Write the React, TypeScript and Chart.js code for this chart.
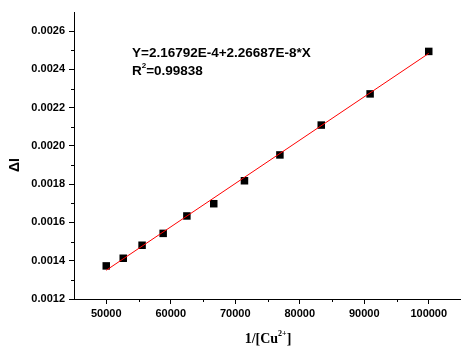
import React, { useEffect, useRef } from "react";
import { Chart, registerables } from "chart.js";

Chart.register(...registerables);

const xValues = [50000, 52632, 55556, 58824, 62500, 66667, 71429, 76923, 83333, 90909, 100000];
const yValues = [0.001373, 0.001413, 0.001481, 0.001543, 0.001634, 0.001698, 0.001818, 0.001953, 0.002109, 0.002272, 0.002494];
const fitIntercept = 2.16792e-4;
const fitSlope = 2.26687e-8;
const xTicks = [50000, 60000, 70000, 80000, 90000, 100000];
const xMinorTicks = [55000, 65000, 75000, 85000, 95000];
const yTicks = [0.0012, 0.0014, 0.0016, 0.0018, 0.002, 0.0022, 0.0024, 0.0026];
const yMinorTicks = [0.0013, 0.0015, 0.0017, 0.0019, 0.0021, 0.0023, 0.0025];
const equationText = "Y=2.16792E-4+2.26687E-8*X";
const r2Text = "0.99838";

const SANS = "'Liberation Sans', Arial, sans-serif";
const SERIF = "'Liberation Serif', 'Times New Roman', serif";

const overlayPlugin = {
  id: "overlay",
  afterDraw(chart: any) {
    const ctx = chart.ctx;
    const xs = chart.scales.x;
    const ys = chart.scales.y;
    const area = chart.chartArea;
    ctx.save();
    ctx.strokeStyle = "#000";
    ctx.lineWidth = 1;
    ctx.beginPath();
    xMinorTicks.forEach((v) => {
      const px = Math.round(xs.getPixelForValue(v)) + 0.5;
      ctx.moveTo(px, area.bottom);
      ctx.lineTo(px, area.bottom + 3);
    });
    yMinorTicks.forEach((v) => {
      const py = Math.round(ys.getPixelForValue(v)) + 0.5;
      ctx.moveTo(area.left, py);
      ctx.lineTo(area.left - 3, py);
    });
    ctx.stroke();

    ctx.fillStyle = "#000";
    ctx.textBaseline = "alphabetic";
    ctx.textAlign = "left";
    ctx.font = `bold 13.5px ${SANS}`;
    const ax = 132;
    ctx.fillText(equationText, ax, 57);
    ctx.fillText("R", ax, 75);
    const rw = ctx.measureText("R").width;
    ctx.font = `bold 8px ${SANS}`;
    ctx.fillText("2", ax + rw, 68);
    const sw = ctx.measureText("2").width;
    ctx.font = `bold 13.5px ${SANS}`;
    ctx.fillText("=" + r2Text, ax + rw + sw, 75);

    const parts = [
      { t: "1/[Cu", f: `bold 14px ${SERIF}`, dy: 0 },
      { t: "2+", f: `bold 8px ${SERIF}`, dy: -7 },
      { t: "]", f: `bold 14px ${SERIF}`, dy: 0 },
    ];
    let total = 0;
    parts.forEach((p) => {
      ctx.font = p.f;
      total += ctx.measureText(p.t).width;
    });
    let cx = 268 - total / 2;
    const baseY = 343;
    parts.forEach((p) => {
      ctx.font = p.f;
      ctx.fillText(p.t, cx, baseY + p.dy);
      cx += ctx.measureText(p.t).width;
    });

    ctx.save();
    ctx.translate(19, 165);
    ctx.rotate(-Math.PI / 2);
    ctx.textAlign = "center";
    ctx.font = `bold 14px ${SANS}`;
    ctx.fillText("\u0394I", 0, 0);
    ctx.restore();
    ctx.restore();
  },
};

export default function App() {
  const ref = useRef<HTMLCanvasElement>(null);
  useEffect(() => {
    if (!ref.current) return;
    const points = xValues.map((x, i) => ({ x, y: yValues[i] }));
    const xMin = Math.min(...xValues);
    const xMax = Math.max(...xValues);
    const fit = [
      { x: xMin, y: fitIntercept + fitSlope * xMin },
      { x: xMax, y: fitIntercept + fitSlope * xMax },
    ];
    const chart = new Chart(ref.current, {
      type: "scatter",
      data: {
        datasets: [
          {
            data: fit,
            showLine: true,
            borderColor: "#ff0000",
            borderWidth: 1,
            pointRadius: 0,
            fill: false,
          },
          {
            data: points,
            pointStyle: "rect",
            pointRadius: 5.3,
            pointBorderWidth: 0,
            backgroundColor: "#000",
            borderColor: "#000",
          },
        ],
      },
      options: {
        animation: false,
        responsive: false,
        maintainAspectRatio: false,
        layout: { autoPadding: false, padding: { top: 12, right: 0, left: 0, bottom: 0 } },
        plugins: { legend: { display: false }, tooltip: { enabled: false } },
        scales: {
          x: {
            type: "linear",
            min: 45000,
            max: 105000,
            afterBuildTicks: (s: any) => {
              s.ticks = xTicks.map((v) => ({ value: v }));
            },
            afterFit: (s: any) => {
              s.height = 49;
              s.paddingLeft = 0;
              s.paddingRight = 0;
            },
            grid: { drawOnChartArea: false, tickLength: 5, color: "#000", tickColor: "#000" },
            border: { display: true, color: "#000", width: 1 },
            ticks: {
              color: "#000",
              padding: 3,
              maxRotation: 0,
              autoSkip: false,
              font: { family: SANS, size: 11, weight: "bold" },
              callback: (v: any) => String(v),
            },
          },
          y: {
            type: "linear",
            min: 0.0012,
            max: 0.0027,
            afterBuildTicks: (s: any) => {
              s.ticks = yTicks.map((v) => ({ value: v }));
            },
            afterFit: (s: any) => {
              s.width = 74;
              s.paddingTop = 0;
              s.paddingBottom = 0;
            },
            grid: { drawOnChartArea: false, tickLength: 5, color: "#000", tickColor: "#000" },
            border: { display: true, color: "#000", width: 1 },
            ticks: {
              color: "#000",
              padding: 4,
              autoSkip: false,
              font: { family: SANS, size: 11, weight: "bold" },
              callback: (v: any) => Number(v).toFixed(4),
            },
          },
        },
      },
      plugins: [overlayPlugin],
    });
    return () => chart.destroy();
  }, []);
  return (
    <div style={{ position: "fixed", left: 0, top: 0, width: 461, height: 348, background: "#fff" }}>
      <canvas ref={ref} width={461} height={348} style={{ width: 461, height: 348, display: "block" }} />
    </div>
  );
}
